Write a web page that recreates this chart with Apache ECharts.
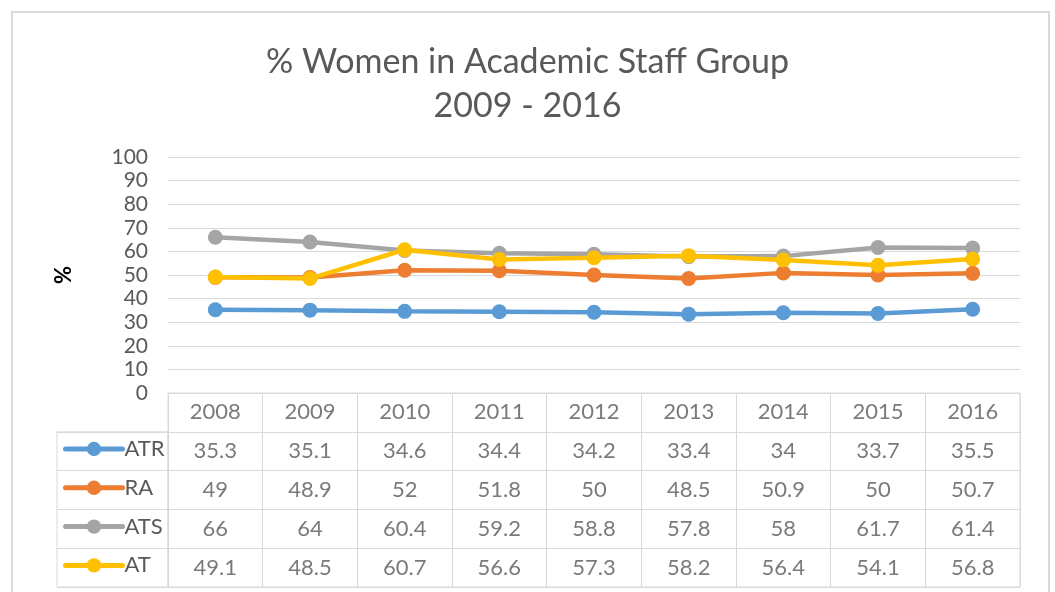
<!DOCTYPE html>
<html>
<head>
<meta charset="utf-8">
<script src="https://cdn.jsdelivr.net/npm/echarts@6/dist/echarts.min.js"></script>
<style>
html,body{margin:0;padding:0;background:#fff;}
#main{width:1055px;height:592px;}
</style>
</head>
<body>
<div id="main"></div>
<script>
var years = ['2008','2009','2010','2011','2012','2013','2014','2015','2016'];
var seriesNames = ['ATR','RA','ATS','AT'];
var atr = [35.3,35.1,34.6,34.4,34.2,33.4,34,33.7,35.5];
var ra  = [49,48.9,52,51.8,50,48.5,50.9,50,50.7];
var ats = [66,64,60.4,59.2,58.8,57.8,58,61.7,61.4];
var at  = [49.1,48.5,60.7,56.6,57.3,58.2,56.4,54.1,56.8];
var yTicks = [0,10,20,30,40,50,60,70,80,90,100];
var colors = ['#5B9BD5','#ED7D31','#A5A5A5','#FFC000'];

var allValues = [atr, ra, ats, at];
var FONT = 'Lato';
var TXT = '#595959';
var GRIDC = '#d9d9d9';

// table cells
var tableRows = ['hdr'].concat(seriesNames);
var cellData = [];
years.forEach(function(y, i){
  cellData.push([y, 'hdr', y]);
  seriesNames.forEach(function(s, k){
    cellData.push([y, s, String(allValues[k][i])]);
  });
});

var lineSeries = seriesNames.map(function(name, k){
  return {
    name: name,
    type: 'line',
    xAxisIndex: 0, yAxisIndex: 0,
    data: allValues[k],
    symbol: 'circle',
    symbolSize: 15,
    color: colors[k],
    lineStyle: {width: 4.5, color: colors[k]},
    itemStyle: {color: colors[k]},
    z: 2 + k
  };
});

var chart = echarts.init(document.getElementById('main'));
chart.setOption({
  backgroundColor: '#fff',
  animation: false,
  textStyle: {fontFamily: FONT},
  graphic: [{
    type: 'rect',
    shape: {x: 12, y: 12, width: 1037, height: 600},
    style: {fill: 'none', stroke: GRIDC, lineWidth: 2},
    silent: true, z: -10
  }],
  title: {
    text: '% Women in Academic Staff Group\n2009 - 2016',
    left: 'center',
    top: 35,
    textStyle: {fontFamily: FONT, fontSize: 34, fontWeight: 'normal', color: TXT, lineHeight: 44}
  },
  legend: {
    data: seriesNames,
    orient: 'vertical',
    left: 58,
    top: 433,
    itemWidth: 57,
    itemHeight: 18,
    itemGap: 16.8,
    lineStyle: {width: 5, cap: 'round'},
    textStyle: {fontFamily: FONT, fontSize: 22, color: TXT, lineHeight: 22, padding: [0,0,0,-3]},
    selectedMode: false
  },
  grid: [
    {left: 168, right: 35, top: 157, height: 236, containLabel: false},
    {left: 168, right: 35, top: 393, bottom: 5, show: true, borderColor: GRIDC, borderWidth: 1},
    {left: 57, width: 111, top: 431.8, bottom: 5, show: true, borderColor: GRIDC, borderWidth: 1}
  ],
  xAxis: [
    {gridIndex: 0, type: 'category', data: years, boundaryGap: true,
     axisLine: {show: false}, axisTick: {show: false}, axisLabel: {show: false}, splitLine: {show: false}},
    {gridIndex: 1, type: 'category', data: years, boundaryGap: true,
     axisLine: {show: false}, axisTick: {show: false}, axisLabel: {show: false},
     splitLine: {show: true, lineStyle: {color: GRIDC, width: 1}}},
    {gridIndex: 2, type: 'category', data: [''], show: false}
  ],
  yAxis: [
    {gridIndex: 0, type: 'value', min: 0, max: 100, interval: 10,
     axisLine: {show: false}, axisTick: {show: false},
     axisLabel: {fontFamily: FONT, fontSize: 21, color: TXT, margin: 20,
       formatter: function(v){ return yTicks.indexOf(v) >= 0 ? String(v) : ''; }},
     splitLine: {lineStyle: {color: GRIDC, width: 1}},
     name: '%', nameLocation: 'middle', nameRotate: 90, nameGap: 93,
     nameTextStyle: {fontFamily: FONT, fontSize: 22, fontWeight: 'bold', color: '#000'}},
    {gridIndex: 1, type: 'category', data: tableRows, inverse: true, boundaryGap: true,
     axisLine: {show: false}, axisTick: {show: false}, axisLabel: {show: false},
     splitLine: {show: true, lineStyle: {color: GRIDC, width: 1}}},
    {gridIndex: 2, type: 'category', data: seriesNames, inverse: true, boundaryGap: true,
     axisLine: {show: false}, axisTick: {show: false}, axisLabel: {show: false},
     splitLine: {show: true, lineStyle: {color: GRIDC, width: 1}}}
  ],
  series: lineSeries.concat([{
    type: 'scatter',
    xAxisIndex: 1, yAxisIndex: 1,
    data: cellData,
    symbolSize: 0,
    silent: true,
    label: {
      show: true, position: 'inside',
      formatter: function(p){ return p.value[2]; },
      fontFamily: FONT, fontSize: 22, color: TXT
    }
  }])
});
</script>
</body>
</html>
